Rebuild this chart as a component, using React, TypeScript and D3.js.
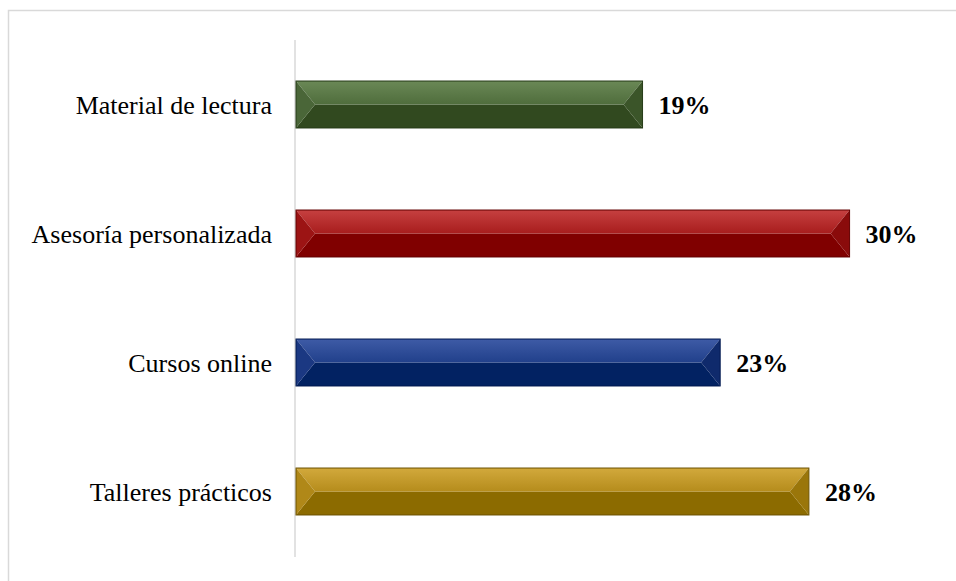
import { useRef, useEffect } from "react";
import * as d3 from "d3";

const categories = [
  "Material de lectura",
  "Asesoría personalizada",
  "Cursos online",
  "Talleres prácticos",
];
const values = [0.188, 0.3, 0.23, 0.278];

// top-light, top-dark, left face, right face, bottom face, outline
const palette = [
  ["#6a8856", "#4f6d3c", "#4a6638", "#3b5529", "#31491f", "#263b18"],
  ["#c64040", "#a81d1d", "#9c1414", "#8a0b0b", "#800000", "#620000"],
  ["#3e5ba6", "#21408b", "#1b3882", "#0f2a6c", "#022262", "#001850"],
  ["#d2a93c", "#b58c1c", "#b08818", "#9a760a", "#8c6b00", "#6c5200"],
];

const W = 956;
const H = 581;

export default function App() {
  const svgRef = useRef<SVGSVGElement>(null);

  useEffect(() => {
    if (!svgRef.current) return;
    const svg = d3.select(svgRef.current);
    svg.selectAll("*").remove();

    const x = d3.scaleLinear().domain([0, 0.35]).range([295, 942]);
    const y = d3
      .scaleBand()
      .domain(categories)
      .range([40, 556])
      .paddingInner(0.636)
      .paddingOuter(0.318);

    // chart border (runs off the right and bottom of the picture)
    svg
      .append("rect")
      .attr("x", 8.5)
      .attr("y", 10.5)
      .attr("width", 1000)
      .attr("height", 700)
      .attr("fill", "#fff")
      .attr("stroke", "#d9d9d9")
      .attr("stroke-width", 1.5);

    const defs = svg.append("defs");
    palette.forEach((p, i) => {
      const g = defs
        .append("linearGradient")
        .attr("id", `top${i}`)
        .attr("x1", 0)
        .attr("y1", 0)
        .attr("x2", 0)
        .attr("y2", 1);
      g.append("stop").attr("offset", "0%").attr("stop-color", p[0]);
      g.append("stop").attr("offset", "100%").attr("stop-color", p[1]);
    });

    // axis line
    svg
      .append("line")
      .attr("x1", x(0))
      .attr("x2", x(0))
      .attr("y1", 40)
      .attr("y2", 557)
      .attr("stroke", "#d9d9d9")
      .attr("stroke-width", 1.5);

    const bev = 19;
    const bars = svg
      .selectAll(".bar")
      .data(categories)
      .join("g")
      .attr("class", "bar");

    bars.each(function (c, i) {
      const g = d3.select(this);
      const x0 = x(0) + 1;
      const x1 = x(values[i]);
      const y0 = y(c)!;
      const y1 = y0 + y.bandwidth();
      const ym = (y0 + y1) / 2;
      const p = palette[i];
      const poly = (pts: number[][], fill: string) =>
        g
          .append("polygon")
          .attr("points", pts.map((d) => d.join(",")).join(" "))
          .attr("fill", fill);
      poly(
        [
          [x0, y1],
          [x0 + bev, ym],
          [x1 - bev, ym],
          [x1, y1],
        ],
        p[4]
      );
      poly(
        [
          [x0, y0],
          [x1, y0],
          [x1 - bev, ym],
          [x0 + bev, ym],
        ],
        `url(#top${i})`
      );
      poly(
        [
          [x0, y0],
          [x0 + bev, ym],
          [x0, y1],
        ],
        p[2]
      );
      poly(
        [
          [x1, y0],
          [x1 - bev, ym],
          [x1, y1],
        ],
        p[3]
      );
      g.append("rect")
        .attr("x", x0)
        .attr("y", y0)
        .attr("width", x1 - x0)
        .attr("height", y1 - y0)
        .attr("fill", "none")
        .attr("stroke", p[5])
        .attr("stroke-width", 1);
    });

    // value labels
    svg
      .selectAll(".val")
      .data(categories)
      .join("text")
      .attr("class", "val")
      .attr("x", (_, i) => x(values[i]) + 16)
      .attr("y", (c) => y(c)! + y.bandwidth() / 2)
      .attr("dy", "0.35em")
      .attr("font-family", "'Liberation Serif', 'Times New Roman', serif")
      .attr("font-size", 26)
      .attr("font-weight", "bold")
      .attr("fill", "#000")
      .text((_, i) => `${Math.round(values[i] * 100)}%`);

    // category labels
    svg
      .selectAll(".cat")
      .data(categories)
      .join("text")
      .attr("class", "cat")
      .attr("x", x(0) - 23)
      .attr("y", (c) => y(c)! + y.bandwidth() / 2)
      .attr("dy", "0.35em")
      .attr("text-anchor", "end")
      .attr("font-family", "'Liberation Serif', 'Times New Roman', serif")
      .attr("font-size", 26)
      .attr("fill", "#000")
      .text((c) => c);
  }, []);

  return (
    <svg
      ref={svgRef}
      width={W}
      height={H}
      style={{ position: "absolute", left: 0, top: 0, background: "#fff" }}
    />
  );
}
